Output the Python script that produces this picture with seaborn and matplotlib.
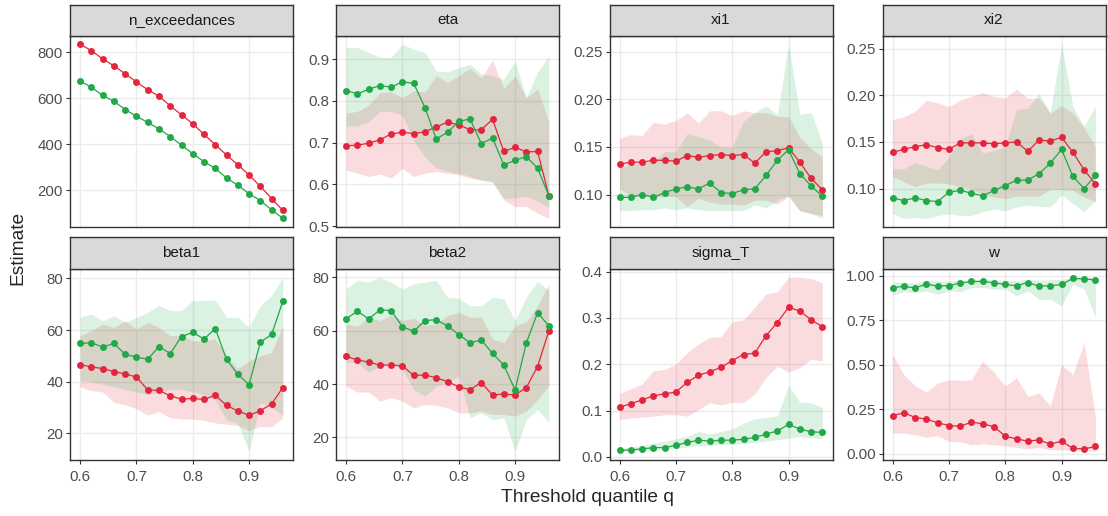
import numpy as np
import pandas as pd
import matplotlib
matplotlib.use('Agg')
import matplotlib.pyplot as plt
import seaborn as sns
from matplotlib.ticker import MultipleLocator, FormatStrFormatter

# threshold quantiles
q = [0.60, 0.62, 0.64, 0.66, 0.68, 0.70, 0.72, 0.74, 0.76, 0.78,
     0.80, 0.82, 0.84, 0.86, 0.88, 0.90, 0.92, 0.94, 0.96]

# n_exceedances (no ribbon)
nexc_red = [835, 807, 771, 741, 706, 671, 637, 609, 567, 528, 489, 443, 398, 353, 311, 266, 217, 164, 112]
nexc_green = [674, 648, 612, 587, 551, 522, 495, 467, 433, 396, 359, 324, 295, 253, 222, 185, 155, 115, 78]

# eta
eta_red = [0.693, 0.694, 0.699, 0.707, 0.721, 0.725, 0.722, 0.726, 0.738, 0.749, 0.743, 0.731, 0.731, 0.756, 0.679, 0.689, 0.678, 0.679, 0.573]
eta_red_lo = [0.635, 0.627, 0.619, 0.625, 0.615, 0.639, 0.619, 0.627, 0.631, 0.627, 0.623, 0.615, 0.611, 0.607, 0.563, 0.547, 0.547, 0.531, 0.519]
eta_red_hi = [0.771, 0.775, 0.790, 0.820, 0.822, 0.808, 0.825, 0.822, 0.860, 0.845, 0.860, 0.878, 0.855, 0.898, 0.830, 0.860, 0.808, 0.828, 0.750]
eta_green = [0.825, 0.817, 0.828, 0.837, 0.833, 0.846, 0.842, 0.784, 0.709, 0.725, 0.751, 0.757, 0.698, 0.711, 0.647, 0.658, 0.667, 0.639, 0.573]
eta_green_lo = [0.740, 0.740, 0.750, 0.775, 0.775, 0.765, 0.705, 0.665, 0.640, 0.632, 0.627, 0.620, 0.610, 0.605, 0.566, 0.568, 0.572, 0.560, 0.545]
eta_green_hi = [0.928, 0.928, 0.916, 0.905, 0.904, 0.936, 0.924, 0.916, 0.872, 0.870, 0.880, 0.888, 0.865, 0.860, 0.852, 0.895, 0.808, 0.870, 0.907]

# xi1
xi1_red = [0.132, 0.134, 0.134, 0.136, 0.136, 0.135, 0.141, 0.139, 0.141, 0.142, 0.141, 0.142, 0.133, 0.145, 0.146, 0.149, 0.134, 0.117, 0.105]
xi1_red_lo = [0.106, 0.099, 0.098, 0.098, 0.098, 0.098, 0.087, 0.096, 0.092, 0.090, 0.090, 0.089, 0.094, 0.094, 0.090, 0.098, 0.083, 0.080, 0.078]
xi1_red_hi = [0.159, 0.163, 0.162, 0.176, 0.174, 0.178, 0.186, 0.175, 0.188, 0.188, 0.183, 0.188, 0.186, 0.186, 0.182, 0.182, 0.160, 0.148, 0.140]
xi1_green = [0.097, 0.097, 0.100, 0.097, 0.102, 0.106, 0.108, 0.106, 0.112, 0.102, 0.101, 0.105, 0.106, 0.120, 0.136, 0.147, 0.122, 0.109, 0.098]
xi1_green_lo = [0.083, 0.083, 0.084, 0.084, 0.086, 0.084, 0.086, 0.084, 0.083, 0.083, 0.083, 0.083, 0.089, 0.086, 0.094, 0.099, 0.083, 0.080, 0.075]
xi1_green_hi = [0.128, 0.131, 0.133, 0.135, 0.145, 0.145, 0.164, 0.161, 0.157, 0.150, 0.150, 0.177, 0.186, 0.193, 0.184, 0.258, 0.184, 0.186, 0.154]

# xi2
xi2_red = [0.139, 0.142, 0.145, 0.147, 0.144, 0.142, 0.149, 0.149, 0.149, 0.148, 0.149, 0.150, 0.140, 0.152, 0.151, 0.155, 0.139, 0.120, 0.105]
xi2_red_lo = [0.113, 0.107, 0.102, 0.106, 0.106, 0.105, 0.102, 0.100, 0.093, 0.091, 0.089, 0.092, 0.092, 0.092, 0.099, 0.099, 0.098, 0.091, 0.086]
xi2_red_hi = [0.174, 0.177, 0.183, 0.195, 0.192, 0.188, 0.195, 0.199, 0.203, 0.199, 0.197, 0.207, 0.197, 0.197, 0.181, 0.189, 0.181, 0.165, 0.145]
xi2_green = [0.090, 0.087, 0.090, 0.087, 0.086, 0.096, 0.098, 0.095, 0.092, 0.098, 0.103, 0.109, 0.109, 0.116, 0.127, 0.142, 0.113, 0.100, 0.114]
xi2_green_lo = [0.073, 0.068, 0.069, 0.068, 0.071, 0.073, 0.071, 0.071, 0.075, 0.078, 0.076, 0.080, 0.082, 0.081, 0.080, 0.093, 0.084, 0.075, 0.087]
xi2_green_hi = [0.121, 0.121, 0.128, 0.124, 0.120, 0.134, 0.153, 0.159, 0.138, 0.141, 0.145, 0.185, 0.186, 0.202, 0.181, 0.255, 0.188, 0.167, 0.188]

# beta1
beta1_red = [46.6, 45.7, 45.1, 43.9, 43.0, 41.8, 36.8, 36.6, 34.5, 33.2, 33.5, 33.1, 34.7, 30.8, 28.6, 27.0, 28.7, 31.4, 37.7]
beta1_red_lo = [38.0, 36.5, 36.0, 32.0, 31.0, 29.5, 27.0, 28.5, 26.0, 25.5, 25.5, 25.0, 24.0, 23.5, 23.0, 21.0, 22.7, 22.5, 26.0]
beta1_red_hi = [57.8, 59.7, 62.3, 61.0, 63.6, 60.4, 63.0, 61.0, 57.8, 57.8, 55.8, 55.8, 56.5, 50.0, 45.0, 48.1, 50.0, 51.3, 61.7]
beta1_green = [54.8, 55.1, 53.4, 54.8, 50.6, 49.5, 48.7, 53.6, 50.9, 57.5, 59.1, 56.5, 60.6, 48.6, 42.9, 38.8, 55.3, 58.3, 71.2]
beta1_green_lo = [40.5, 40.0, 39.0, 38.0, 37.0, 36.0, 35.0, 36.0, 37.0, 37.0, 36.0, 35.0, 33.0, 25.0, 24.0, 13.0, 32.0, 30.0, 27.0]
beta1_green_hi = [64.9, 66.2, 63.6, 65.6, 63.0, 64.9, 66.9, 69.5, 67.5, 67.5, 71.4, 71.4, 71.8, 64.9, 64.9, 61.0, 69.5, 73.4, 80.5]

# beta2
beta2_red = [50.5, 49.0, 48.3, 47.1, 47.2, 46.8, 43.3, 43.4, 42.4, 40.9, 39.0, 37.9, 40.6, 35.9, 36.3, 35.9, 38.7, 46.6, 60.0]
beta2_red_lo = [39.3, 37.0, 37.0, 33.6, 34.9, 33.6, 31.1, 32.4, 32.0, 31.1, 29.2, 29.2, 29.9, 28.6, 28.6, 28.0, 29.9, 34.3, 39.3]
beta2_red_hi = [62.5, 61.7, 65.1, 63.8, 65.9, 63.8, 64.7, 61.9, 62.5, 65.7, 66.9, 65.1, 65.1, 56.9, 55.6, 61.9, 63.2, 69.4, 77.6]
beta2_green = [64.5, 67.3, 64.5, 67.8, 67.6, 61.5, 59.8, 63.8, 64.2, 61.8, 58.6, 55.5, 56.6, 51.5, 47.1, 37.8, 55.5, 66.8, 61.8]
beta2_green_lo = [48.1, 48.1, 44.3, 46.8, 48.1, 45.5, 38.0, 35.5, 39.3, 40.6, 43.0, 27.4, 29.2, 26.7, 27.4, 14.8, 26.7, 30.5, 25.5]
beta2_green_hi = [75.7, 78.9, 78.2, 80.1, 78.2, 75.7, 77.6, 78.2, 78.9, 72.6, 72.2, 69.4, 69.4, 72.6, 72.0, 63.8, 72.6, 78.5, 75.1]

# sigma_T
sig_red = [0.107, 0.115, 0.123, 0.132, 0.136, 0.140, 0.161, 0.176, 0.184, 0.193, 0.208, 0.221, 0.224, 0.262, 0.290, 0.323, 0.315, 0.296, 0.281]
sig_red_lo = [0.081, 0.084, 0.086, 0.088, 0.091, 0.091, 0.088, 0.102, 0.117, 0.112, 0.118, 0.117, 0.136, 0.171, 0.196, 0.183, 0.193, 0.211, 0.207]
sig_red_hi = [0.137, 0.147, 0.158, 0.186, 0.189, 0.200, 0.225, 0.244, 0.258, 0.260, 0.292, 0.296, 0.323, 0.352, 0.356, 0.388, 0.388, 0.385, 0.376]
sig_green = [0.014, 0.015, 0.017, 0.020, 0.020, 0.025, 0.031, 0.036, 0.034, 0.036, 0.036, 0.038, 0.042, 0.049, 0.056, 0.070, 0.060, 0.054, 0.053]
sig_green_lo = [0.012, 0.013, 0.014, 0.015, 0.016, 0.018, 0.021, 0.024, 0.025, 0.026, 0.027, 0.029, 0.031, 0.034, 0.037, 0.040, 0.044, 0.041, 0.040]
sig_green_hi = [0.018, 0.021, 0.025, 0.030, 0.034, 0.039, 0.044, 0.055, 0.049, 0.055, 0.060, 0.073, 0.082, 0.085, 0.088, 0.154, 0.118, 0.117, 0.106]

# w
w_red = [0.213, 0.230, 0.203, 0.194, 0.173, 0.158, 0.154, 0.177, 0.168, 0.151, 0.098, 0.083, 0.070, 0.077, 0.053, 0.070, 0.030, 0.026, 0.040]
w_red_lo = [0.115, 0.115, 0.106, 0.092, 0.100, 0.070, 0.066, 0.049, 0.055, 0.049, 0.043, 0.036, 0.025, 0.036, 0.021, 0.021, 0.021, 0.017, 0.013]
w_red_hi = [0.557, 0.444, 0.382, 0.345, 0.397, 0.416, 0.412, 0.416, 0.520, 0.458, 0.379, 0.426, 0.322, 0.341, 0.269, 0.501, 0.444, 0.623, 0.209]
w_green = [0.934, 0.940, 0.932, 0.953, 0.942, 0.945, 0.959, 0.968, 0.968, 0.961, 0.951, 0.944, 0.962, 0.942, 0.944, 0.951, 0.985, 0.983, 0.976]
w_green_lo = [0.891, 0.910, 0.906, 0.915, 0.896, 0.915, 0.910, 0.934, 0.934, 0.925, 0.925, 0.887, 0.915, 0.868, 0.868, 0.831, 0.953, 0.925, 0.768]
w_green_hi = [0.966, 0.962, 0.958, 0.975, 0.970, 0.972, 0.975, 0.980, 0.980, 0.978, 0.975, 0.972, 0.980, 0.975, 0.978, 0.980, 0.992, 0.992, 0.990]

panels = ['n_exceedances', 'eta', 'xi1', 'xi2', 'beta1', 'beta2', 'sigma_T', 'w']
data = {
    'n_exceedances': (nexc_red, nexc_red, nexc_red, nexc_green, nexc_green, nexc_green),
    'eta': (eta_red, eta_red_lo, eta_red_hi, eta_green, eta_green_lo, eta_green_hi),
    'xi1': (xi1_red, xi1_red_lo, xi1_red_hi, xi1_green, xi1_green_lo, xi1_green_hi),
    'xi2': (xi2_red, xi2_red_lo, xi2_red_hi, xi2_green, xi2_green_lo, xi2_green_hi),
    'beta1': (beta1_red, beta1_red_lo, beta1_red_hi, beta1_green, beta1_green_lo, beta1_green_hi),
    'beta2': (beta2_red, beta2_red_lo, beta2_red_hi, beta2_green, beta2_green_lo, beta2_green_hi),
    'sigma_T': (sig_red, sig_red_lo, sig_red_hi, sig_green, sig_green_lo, sig_green_hi),
    'w': (w_red, w_red_lo, w_red_hi, w_green, w_green_lo, w_green_hi),
}

frames = []
for p in panels:
    r, rl, rh, g, gl, gh = data[p]
    frames.append(pd.DataFrame({'param': p, 'series': 'red', 'q': q, 'est': r, 'lo': rl, 'hi': rh}))
    frames.append(pd.DataFrame({'param': p, 'series': 'green', 'q': q, 'est': g, 'lo': gl, 'hi': gh}))
df = pd.concat(frames, ignore_index=True)

pal = {'red': '#E3263E', 'green': '#21A847'}
# tick spacing / format per panel
ystyle = {
    'n_exceedances': (200, '%d'), 'eta': (0.1, '%.1f'), 'xi1': (0.05, '%.2f'),
    'xi2': (0.05, '%.2f'), 'beta1': (20, '%d'), 'beta2': (20, '%d'),
    'sigma_T': (0.1, '%.1f'), 'w': (0.25, '%.2f'),
}

sns.set_theme(style='white')
plt.rcParams['font.family'] = ['Liberation Sans', 'DejaVu Sans']

W, H = 1108, 516
fig = plt.figure(figsize=(W / 100, H / 100), dpi=100)

lefts = [70, 336, 609.5, 882.5]
pw = 223
rows = [(35.5, 227), (268.5, 460)]
strip_h = 31

for i, p in enumerate(panels):
    r, c = divmod(i, 4)
    top, bot = rows[r]
    ax = fig.add_axes([lefts[c] / W, 1 - bot / H, pw / W, (bot - top) / H])
    sax = fig.add_axes([lefts[c] / W, 1 - top / H, pw / W, strip_h / H])

    sub = df[df.param == p]
    if p != 'n_exceedances':
        for s in ['red', 'green']:
            d = sub[sub.series == s]
            ax.fill_between(d.q, d.lo, d.hi, color=pal[s], alpha=0.16, lw=0, zorder=1)
    sns.lineplot(data=sub, x='q', y='est', hue='series', palette=pal, marker='o',
                 markersize=5, markeredgewidth=0, linewidth=0.9, legend=False,
                 ax=ax, zorder=3)

    lo = sub[['est', 'lo', 'hi']].min().min()
    hi = sub[['est', 'lo', 'hi']].max().max()
    pad = (hi - lo) * 0.05
    ax.set_ylim(lo - pad, hi + pad)
    ax.set_xlim(0.582, 0.978)
    ax.xaxis.set_major_locator(MultipleLocator(0.1))
    step, fmt = ystyle[p]
    ax.yaxis.set_major_locator(MultipleLocator(step))
    ax.yaxis.set_major_formatter(FormatStrFormatter(fmt))
    ax.xaxis.set_major_formatter(FormatStrFormatter('%.1f'))
    ax.grid(True, color='#EBEBEB', lw=1.0, zorder=0)
    ax.set_axisbelow(True)
    ax.set_xlabel('')
    ax.set_ylabel('')
    for sp in ax.spines.values():
        sp.set_color('#333333')
        sp.set_linewidth(1.0)
    ax.tick_params(axis='y', left=True, length=2.8, width=0.8, color='#333333',
                   pad=2.2, labelsize=10.8, labelcolor='#4D4D4D')
    if r == 1:
        ax.tick_params(axis='x', bottom=True, length=2.8, width=0.8, color='#333333',
                       pad=4.5, labelsize=10.8, labelcolor='#4D4D4D')
    else:
        ax.tick_params(axis='x', bottom=False, labelbottom=False)

    sax.set_facecolor('#D9D9D9')
    sax.set_xticks([])
    sax.set_yticks([])
    for sp in sax.spines.values():
        sp.set_color('#333333')
        sp.set_linewidth(1.0)
    sax.text(0.5, 0.5, p, ha='center', va='center', fontsize=11, color='#1A1A1A',
             transform=sax.transAxes)

fig.text(18 / W, 1 - 248 / H, 'Estimate', rotation=90, ha='center', va='center', fontsize=13.8)
fig.text(587 / W, 1 - 497 / H, 'Threshold quantile q', ha='center', va='center', fontsize=13.8)

fig.savefig('out.png', dpi=100)
